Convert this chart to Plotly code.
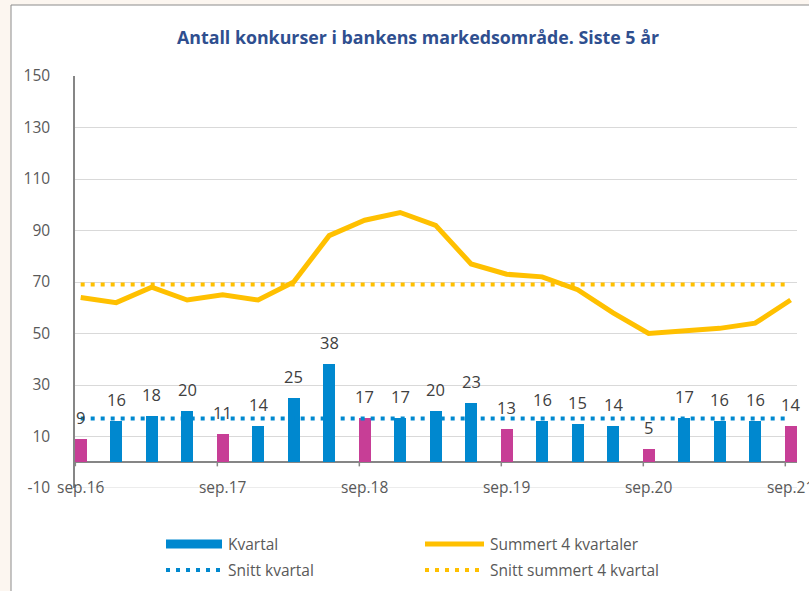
import plotly.graph_objects as go

quarters = ["sep.16", "des.16", "mar.17", "jun.17", "sep.17", "des.17", "mar.18", "jun.18",
            "sep.18", "des.18", "mar.19", "jun.19", "sep.19", "des.19", "mar.20", "jun.20",
            "sep.20", "des.20", "mar.21", "jun.21", "sep.21"]
kvartal = [9, 16, 18, 20, 11, 14, 25, 38, 17, 17, 20, 23, 13, 16, 15, 14, 5, 17, 16, 16, 14]
summert4 = [64, 62, 68, 63, 65, 63, 70, 88, 94, 97, 92, 77, 73, 72, 67, 58, 50, 51, 52, 54, 63]
snitt_kvartal = 17.0
snitt_summert = 69.0
tick_labels = ["sep.16", "sep.17", "sep.18", "sep.19", "sep.20", "sep.21"]
y_ticks = [-10, 10, 30, 50, 70, 90, 110, 130, 150]
y_tick_text = ["-10", "10", "30", "50", "70", "90", "110", "130", "150"]

BLUE = "#0088CF"
PINK = "#C73E96"
YELLOW = "#FFC000"
GRID = "#D9D9D9"
AXIS = "#868686"
TXT = "#595959"
FONT = "Open Sans"

x = list(range(len(quarters)))
bar_colors = [PINK if q.startswith("sep") else BLUE for q in quarters]
tick_idx = [quarters.index(t) for t in tick_labels]

W, H = 809, 591
L, R, T, B = 75, 12, 76, 103
pw, ph = W - L - R, H - T - B


def px(xpix):
    return (xpix - L) / pw


def py(ypix):
    return (H - B - ypix) / ph


fig = go.Figure()
fig.add_trace(go.Bar(x=x, y=kvartal, marker=dict(color=bar_colors, line=dict(width=0)),
                     width=0.34, name="Kvartal", showlegend=False, hoverinfo="skip"))
fig.add_trace(go.Scatter(x=x, y=summert4, mode="lines", line=dict(color=YELLOW, width=5),
                         name="Summert 4 kvartaler", showlegend=False))
fig.add_trace(go.Scatter(x=[x[0], x[-1]], y=[snitt_kvartal] * 2, mode="lines",
                         line=dict(color=BLUE, width=4, dash="4px,6px"),
                         name="Snitt kvartal", showlegend=False))
fig.add_trace(go.Scatter(x=[x[0], x[-1]], y=[snitt_summert] * 2, mode="lines",
                         line=dict(color=YELLOW, width=4, dash="4px,6px"),
                         name="Snitt summert 4 kvartal", showlegend=False))

annotations = []
for xi, v in zip(x, kvartal):
    annotations.append(dict(x=xi, y=v, xref="x", yref="y", text=str(v), showarrow=False,
                            yanchor="bottom", yshift=8,
                            font=dict(family=FONT, size=16.5, color="#404040")))

annotations.append(dict(x=px(418), y=py(37), xref="paper", yref="paper",
                        text="<b>Antall konkurser i bankens markedsområde. Siste 5 år</b>",
                        showarrow=False, xanchor="center", yanchor="middle",
                        font=dict(family=FONT, size=17.8, color="#2F4F8F")))

shapes = []
# outer chart frame
shapes.append(dict(type="rect", xref="paper", yref="paper", x0=px(11), x1=px(830), y0=py(5), y1=py(620),
                   fillcolor="white", line=dict(color="#8C8C8C", width=1), layer="below"))
# bottom gridline at -10
shapes.append(dict(type="line", xref="paper", yref="y", x0=0, x1=1, y0=-10, y1=-10,
                   line=dict(color=GRID, width=1), layer="below"))
# x-axis tick marks on the zero line
for i in tick_idx:
    shapes.append(dict(type="line", xref="x", yref="y", x0=i - 0.15, x1=i - 0.15, y0=0, y1=-1.6,
                       line=dict(color=AXIS, width=1.5)))

# custom legend
leg = [
    ("bar", BLUE, "Kvartal", 166, 222, 544),
    ("line", YELLOW, "Summert 4 kvartaler", 425, 484, 544),
    ("dot", BLUE, "Snitt kvartal", 166, 222, 570),
    ("dot", YELLOW, "Snitt summert 4 kvartal", 425, 484, 570),
]
for kind, col, label, x0p, x1p, yp in leg:
    if kind == "bar":
        shapes.append(dict(type="rect", xref="paper", yref="paper", x0=px(x0p), x1=px(x1p),
                           y0=py(yp - 4.5), y1=py(yp + 4.5), fillcolor=col, line=dict(width=0)))
    elif kind == "line":
        shapes.append(dict(type="line", xref="paper", yref="paper", x0=px(x0p), x1=px(x1p),
                           y0=py(yp), y1=py(yp), line=dict(color=col, width=5)))
    else:
        shapes.append(dict(type="line", xref="paper", yref="paper", x0=px(x0p), x1=px(x1p),
                           y0=py(yp), y1=py(yp), line=dict(color=col, width=4, dash="4px,6px")))
    annotations.append(dict(x=px(x1p + 4), y=py(yp), xref="paper", yref="paper", text=label,
                            showarrow=False, xanchor="left", yanchor="middle",
                            font=dict(family=FONT, size=15.5, color=TXT)))

fig.update_layout(
    width=W, height=H,
    margin=dict(l=L, r=R, t=T, b=B, autoexpand=False),
    paper_bgcolor="#FCF6F0",
    plot_bgcolor="rgba(0,0,0,0)",
    showlegend=False,
    bargap=0,
    annotations=annotations,
    shapes=shapes,
    xaxis=dict(range=[-0.16, 20.18], tickvals=tick_idx, ticktext=tick_labels, showgrid=False,
               zeroline=False, showline=False, ticks="", automargin=False, ticklabelstandoff=-12,
               ticklabeloverflow="allow",
               tickfont=dict(family=FONT, size=15.5, color=TXT), fixedrange=True),
    yaxis=dict(range=[-10, 150], tickvals=y_ticks, ticktext=y_tick_text, showgrid=True,
               gridcolor=GRID, gridwidth=1,
               zeroline=True, zerolinecolor=AXIS, zerolinewidth=1.5, showline=True, linecolor=AXIS,
               linewidth=1.5, ticks="", ticklabelstandoff=20, automargin=False,
               tickfont=dict(family=FONT, size=15.5, color=TXT), fixedrange=True),
)

fig.write_html("out.html", config={"displayModeBar": False},
               post_script="document.body.style.margin='0';document.body.style.overflow='hidden';")
